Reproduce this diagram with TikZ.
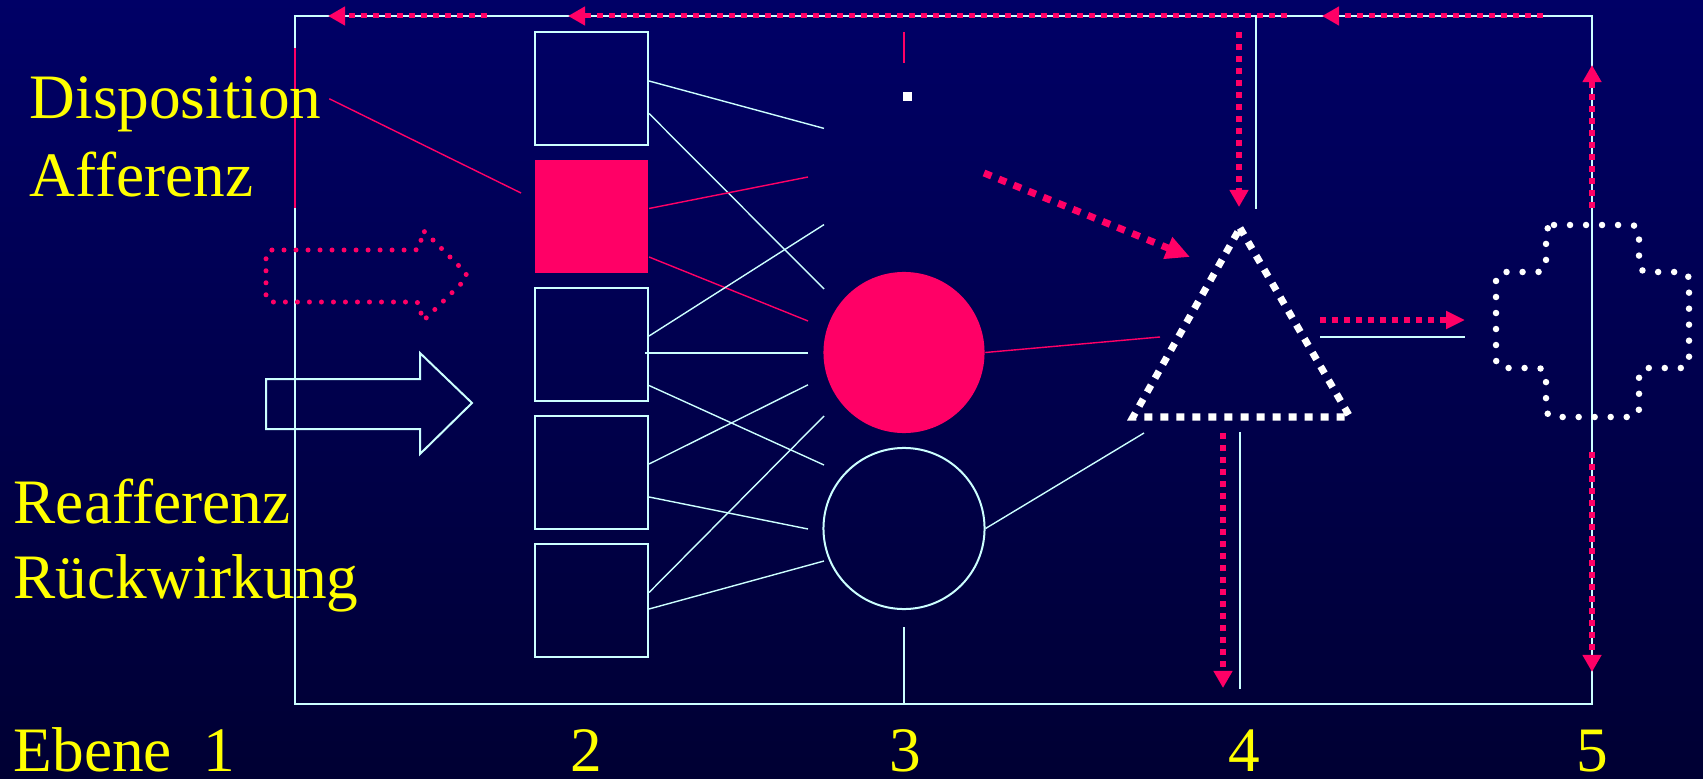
\documentclass[tikz,border=0pt]{standalone}
\usepackage{fontspec}
\setmainfont{Liberation Serif}
\usetikzlibrary{arrows.meta,calc}
\definecolor{lineCyan}{HTML}{CCFFFF}
\definecolor{hotRed}{HTML}{FF0066}
\definecolor{textYellow}{HTML}{FFFF00}
\definecolor{bgTop}{HTML}{000066}
\definecolor{bgBottom}{HTML}{000033}

\begin{document}
\begin{tikzpicture}[x=0.01cm,y=-0.01cm,
  cell/.style={draw=lineCyan,line width=0.02cm,minimum width=1.13cm,minimum height=1.12cm,inner sep=0pt},
  wire/.style={lineCyan,line width=0.014cm},
  hotwire/.style={hotRed,line width=0.014cm},
  redarr/.style={hotRed,line width=0.05cm,dash pattern=on 0.06cm off 0.06cm,
    -{Triangle[length=0.17cm,width=0.18cm]}},
  yelltext/.style={text=textYellow,font=\fontsize{18}{22}\selectfont,inner sep=0pt}
]
  \useasboundingbox (0,0) rectangle (1703,779);
  \shade[top color=bgTop,bottom color=bgBottom] (0,0) rectangle (1703,779);

  \draw[lineCyan,line width=0.02cm] (295,16) rectangle (1592,704);
  \draw[hotwire] (295,48) -- (295,208);

  \node[yelltext,anchor=base west] (disp) at (29,119) {Disposition};
  \node[yelltext,anchor=base west] (aff) at (29,197) {Afferenz};
  \node[yelltext,anchor=base west] (reaff) at (13,523) {Reafferenz};
  \node[yelltext,anchor=base west] (rueck) at (13,598) {Rückwirkung};
  \node[yelltext,anchor=base west] (ebene) at (13,771) {Ebene\ \ 1};
  \node[yelltext,anchor=base] (lv2) at (586,771) {2};
  \node[yelltext,anchor=base] (lv3) at (905,771) {3};
  \node[yelltext,anchor=base] (lv4) at (1244,771) {4};
  \node[yelltext,anchor=base] (lv5) at (1592,771) {5};

  \draw[hotRed,line width=0.05cm,line cap=round,dash pattern=on 0pt off 0.12cm,rounded corners=0.06cm]
    (266,250) -- (421,250) -- (421,228) -- (469,276) -- (421,323) -- (421,302) -- (266,302) -- cycle;
  \draw[lineCyan,line width=0.02cm]
    (266,379) -- (420,379) -- (420,353) -- (472,403) -- (420,454) -- (420,429) -- (266,429) -- cycle;

  \node[cell] (c1) at (591.5,88.5) {};
  \node[cell,draw=none,fill=hotRed,minimum height=1.13cm] (c2) at (591.5,216.5) {};
  \node[cell] (c3) at (591.5,344.5) {};
  \node[cell] (c4) at (591.5,472.5) {};
  \node[cell] (c5) at (591.5,600.5) {};

  \node[circle,fill=hotRed,minimum size=1.61cm,inner sep=0pt] (act) at (904,352.5) {};
  \node[circle,draw=lineCyan,line width=0.02cm,minimum size=1.61cm,inner sep=0pt] (rest) at (904,528.5) {};
  \fill[white] (903,92) rectangle (912,101);
  \draw[hotwire] (904,32) -- (904,63);

  \foreach \n/\x/\y in {dispEnd/521/193, w1/824/128.4, w2/824/289, r1/808/177, r2/808/321,
      w3/824/224.6, w4/808/353, w5/824/465, w6/808/384.8, w7/808/529, w8/824/416, w9/824/561,
      restFoot/904/627, restBase/904/704, triIn/1160/337, triLow/1144/433}
    \coordinate (\n) at (\x,\y);

  \draw[hotwire] ([xshift=0.07cm,yshift=0.06cm]disp.east) -- (dispEnd);
  \draw[wire] ($(c1.east)+(0,-7.5)$) -- (w1);
  \draw[wire] ($(c1.east)+(0,25)$) -- (w2);
  \draw[hotwire] ($(c2.east)+(0,-8)$) -- (r1);
  \draw[hotwire] ($(c2.east)+(0,40.5)$) -- (r2);
  \draw[wire] ($(c3.east)+(0,-8.5)$) -- (w3);
  \draw[wire] ($(c3.east)+(-4,8.5)$) -- (w4);
  \draw[wire] ($(c3.east)+(0,41)$) -- (w5);
  \draw[wire] ($(c4.east)+(0,-8.5)$) -- (w6);
  \draw[wire] ($(c4.east)+(0,24.5)$) -- (w7);
  \draw[wire] ($(c5.east)+(0,-8)$) -- (w8);
  \draw[wire] ($(c5.east)+(0,8.5)$) -- (w9);
  \draw[wire] (restFoot) -- (restBase);

  \coordinate (tTop) at (1240,228);
  \coordinate (tRight) at (1350,417);
  \coordinate (tLeft) at (1133,417);
  \draw[white,line width=0.07cm,dash pattern=on 0.08cm off 0.08cm] (tTop) -- (tRight) -- (tLeft) -- cycle;
  \draw[hotwire] (act.east) -- (triIn);
  \draw[wire] (rest.east) -- (triLow);

  \draw[white,line width=0.065cm,line cap=round,dash pattern=on 0pt off 0.16cm,rounded corners=0.08cm]
    (1546,225) -- (1639,225) -- (1639,272) -- (1689,272) -- (1689,368) -- (1639,368) -- (1639,417)
    -- (1546,417) -- (1546,368) -- (1496,368) -- (1496,272) -- (1546,272) -- cycle;

  \foreach \n/\x/\y in {aS1/1543/16, aE1/1322/16, aS2/1287/16, aE2/568/16, aS3/487/16, aE3/328/16,
      dS/984/173, dE/1190/257, vS/1239/32, vE/1239/207, hS/1320/320, hE/1465/320,
      bS/1223/433, bE/1223/688, uS/1592/208, uE/1592/65, lS/1592/452, lE/1592/672,
      cS/1256/16, cE/1256/209, gS/1320/337, gE/1465/337, kS/1240/432, kE/1240/689}
    \coordinate (\n) at (\x,\y);

  \draw[wire] (cS) -- (cE);
  \draw[wire] (gS) -- (gE);
  \draw[wire] (kS) -- (kE);

  \draw[redarr] (aS1) -- (aE1);
  \draw[redarr] (aS2) -- (aE2);
  \draw[redarr] (aS3) -- (aE3);
  \draw[redarr,line width=0.07cm,dash pattern=on 0.08cm off 0.08cm,-{Triangle[length=0.24cm,width=0.22cm]}] (dS) -- (dE);
  \draw[redarr,line width=0.06cm] (vS) -- (vE);
  \draw[redarr,line width=0.06cm,-{Triangle[length=0.19cm,width=0.17cm]}] (hS) -- (hE);
  \draw[redarr,line width=0.06cm] (bS) -- (bE);
  \draw[redarr,line width=0.06cm] (uS) -- (uE);
  \draw[redarr,line width=0.06cm] (lS) -- (lE);
\end{tikzpicture}
\end{document}
